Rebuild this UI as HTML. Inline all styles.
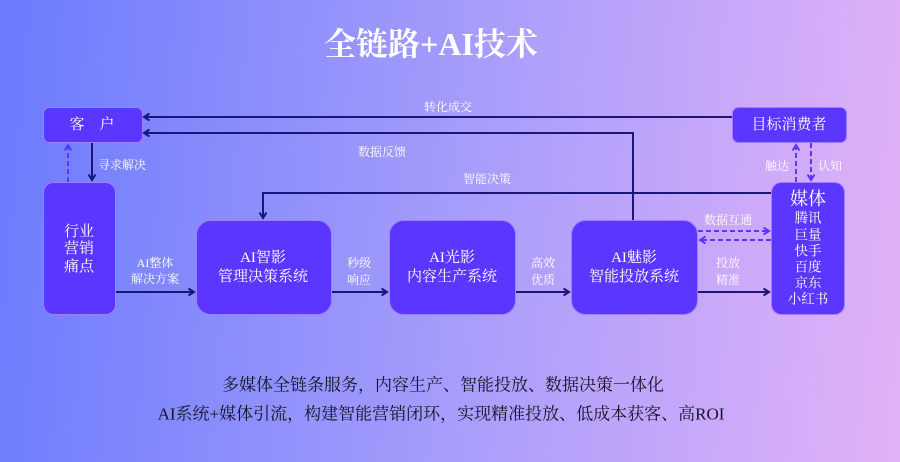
<!DOCTYPE html>
<html>
<head>
<meta charset="utf-8">
<style>
html,body{margin:0;padding:0;}
body{width:900px;height:462px;overflow:hidden;background:linear-gradient(95deg,#6a7bfd 0%,#a59cfb 50%,#e2b2f8 100%);}
svg{display:block;}
text{font-family:"Liberation Serif","Noto Serif CJK SC","Noto Serif CJK JP","Noto Serif SC","Source Han Serif SC",serif;fill:#fff;}
</style>
</head>
<body>
<svg width="900" height="462" viewBox="0 0 900 462" xmlns="http://www.w3.org/2000/svg">
<defs>
<marker id="a" markerWidth="10" markerHeight="10" refX="6" refY="4" orient="auto" markerUnits="userSpaceOnUse">
<path d="M0.5,0.5 L6,4 L0.5,7.5" fill="none" stroke="#1a1577" stroke-width="2"/>
</marker>
<marker id="d" markerWidth="10" markerHeight="10" refX="6" refY="4" orient="auto" markerUnits="userSpaceOnUse">
<path d="M0.5,0.5 L6,4 L0.5,7.5" fill="none" stroke="#5a36ff" stroke-width="2"/>
</marker>
</defs>

<!-- title -->
<text x="431" y="44" font-size="32" font-weight="bold" text-anchor="middle" dominant-baseline="central">全链路+AI技术</text>

<!-- boxes -->
<g fill="#5a36ff" stroke="#a27cff" stroke-width="1">
<rect x="43.5" y="107.5" width="99" height="35" rx="6"/>
<rect x="732.5" y="107.5" width="114" height="35" rx="6"/>
<rect x="43.5" y="182.5" width="72" height="132" rx="10"/>
<rect x="196.5" y="220.5" width="135" height="94" rx="14"/>
<rect x="389.5" y="220.5" width="126" height="94" rx="14"/>
<rect x="571.5" y="220.5" width="126" height="94" rx="14"/>
<rect x="771.5" y="182.5" width="73" height="132" rx="10"/>
</g>

<!-- solid connectors -->
<g fill="none" stroke="#1a1577" stroke-width="2">
<line x1="732" y1="117" x2="144" y2="117" marker-end="url(#a)"/>
<polyline points="633,220 633,133 144,133" marker-end="url(#a)"/>
<polyline points="771,193 263,193 263,218" marker-end="url(#a)"/>
<line x1="92" y1="143" x2="92" y2="180" marker-end="url(#a)"/>
<line x1="116" y1="292" x2="194" y2="292" marker-end="url(#a)"/>
<line x1="332" y1="292" x2="387" y2="292" marker-end="url(#a)"/>
<line x1="516" y1="292" x2="569" y2="292" marker-end="url(#a)"/>
<line x1="698" y1="292" x2="769" y2="292" marker-end="url(#a)"/>
</g>

<!-- dashed connectors -->
<g fill="none" stroke="#5a36ff" stroke-width="2" stroke-dasharray="5,3">
<line x1="68" y1="182" x2="68" y2="145" marker-end="url(#d)"/>
<line x1="698" y1="231" x2="769" y2="231" marker-end="url(#d)"/>
<line x1="771" y1="240" x2="700" y2="240" marker-end="url(#d)"/>
<line x1="796" y1="182" x2="796" y2="145" marker-end="url(#d)"/>
<line x1="811" y1="143" x2="811" y2="180" marker-end="url(#d)"/>
</g>

<!-- box texts -->
<g font-size="15" text-anchor="middle" dominant-baseline="central">
<text x="92" y="125">客　户</text>
<text x="789" y="125">目标消费者</text>
<text x="79" y="232">行业</text>
<text x="79" y="249">营销</text>
<text x="79" y="267">痛点</text>
<text x="263" y="258">AI智影</text>
<text x="263" y="277">管理决策系统</text>
<text x="452" y="258">AI光影</text>
<text x="452" y="277">内容生产系统</text>
<text x="634" y="258">AI魅影</text>
<text x="634" y="277">智能投放系统</text>
</g>
<g text-anchor="middle" dominant-baseline="central">
<text x="808" y="199" font-size="18">媒体</text>
<g font-size="13.5">
<text x="808" y="218">腾讯</text>
<text x="808" y="235">巨量</text>
<text x="808" y="251">快手</text>
<text x="808" y="267">百度</text>
<text x="808" y="283">京东</text>
<text x="808" y="299">小红书</text>
</g>
</g>

<!-- labels -->
<g font-size="12" text-anchor="middle" dominant-baseline="central">
<text x="448" y="107">转化成交</text>
<text x="382" y="152">数据反馈</text>
<text x="487" y="179">智能决策</text>
<text x="122" y="165">寻求解决</text>
<text x="155" y="263">AI整体</text>
<text x="155" y="279">解决方案</text>
<text x="359" y="263">秒级</text>
<text x="359" y="280">响应</text>
<text x="543" y="263">高效</text>
<text x="543" y="280">优质</text>
<text x="728" y="220">数据互通</text>
<text x="728" y="263">投放</text>
<text x="728" y="280">精准</text>
<text x="777" y="166">触达</text>
<text x="830" y="166">认知</text>
</g>

<!-- bottom text -->
<g font-size="17" text-anchor="middle" dominant-baseline="central">
<text x="443" y="385" style="fill:#141428">多媒体全链条服务，内容生产、智能投放、数据决策一体化</text>
<text x="441" y="414" style="fill:#141428">AI系统+媒体引流，构建智能营销闭环，实现精准投放、低成本获客、高ROI</text>
</g>
</svg>
</body>
</html>
